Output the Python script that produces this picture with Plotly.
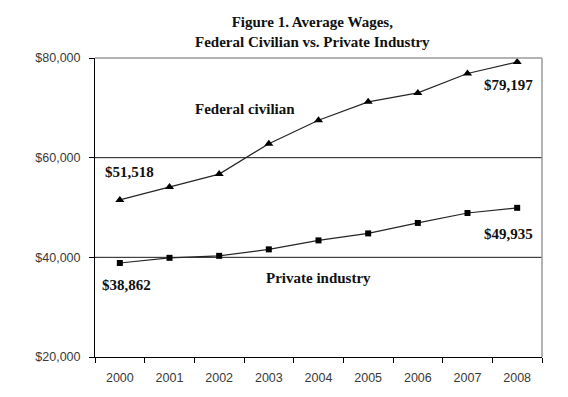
import plotly.graph_objects as go

years = ["2000", "2001", "2002", "2003", "2004", "2005", "2006", "2007", "2008"]
federal = [51518, 54100, 56700, 62800, 67500, 71200, 73000, 76900, 79197]
private = [38862, 39900, 40300, 41600, 43400, 44800, 46900, 48900, 49935]
y_ticks = [20000, 40000, 60000, 80000]
y_tick_text = ["$20,000", "$40,000", "$60,000", "$80,000"]
grid_values = [40000, 60000]

serif = "Liberation Serif, Times New Roman, serif"
sans = "Liberation Sans, Arial, sans-serif"

fig = go.Figure()
fig.add_trace(go.Scatter(
    x=years, y=federal, mode="lines+markers",
    line=dict(color="#262626", width=1.2),
    marker=dict(symbol="triangle-up", size=8, color="black"),
    showlegend=False, cliponaxis=False,
))
fig.add_trace(go.Scatter(
    x=years, y=private, mode="lines+markers",
    line=dict(color="#262626", width=1.2),
    marker=dict(symbol="square", size=6, color="black"),
    showlegend=False, cliponaxis=False,
))

shapes = []
for g in grid_values:
    shapes.append(dict(type="line", xref="paper", yref="y", x0=0, x1=1, y0=g, y1=g,
                       line=dict(color="#1a1a1a", width=1), layer="below"))
shapes.append(dict(type="line", xref="paper", yref="paper", x0=0, x1=1, y0=1, y1=1,
                   line=dict(color="#9a9a9a", width=1.5)))
shapes.append(dict(type="line", xref="paper", yref="paper", x0=1, x1=1, y0=0, y1=1,
                   line=dict(color="#9a9a9a", width=1.5)))

labels = [
    ("Federal civilian", 2.52, 69800),
    ("$51,518", 0.19, 57100),
    ("$79,197", 7.83, 74600),
    ("$49,935", 7.83, 44700),
    ("Private industry", 4.0, 35850),
    ("$38,862", 0.13, 34500),
]
annotations = []
for text, xi, yv in labels:
    annotations.append(dict(text="<b>" + text + "</b>", x=xi, y=yv, xref="x", yref="y",
                            showarrow=False, xanchor="center", yanchor="middle",
                            font=dict(family=serif, size=15, color="#111")))
annotations.append(dict(
    text="<b>Figure 1. Average Wages,</b><br><b>Federal Civilian vs. Private Industry</b>",
    xref="paper", yref="paper", x=0.487, y=1.087, showarrow=False,
    xanchor="center", yanchor="middle",
    font=dict(family=serif, size=15, color="#111")))

fig.update_layout(
    width=568, height=397,
    margin=dict(l=87, r=34, t=50, b=48),
    paper_bgcolor="white", plot_bgcolor="white",
    shapes=shapes, annotations=annotations,
    xaxis=dict(type="category", tickson="boundaries", ticks="outside", ticklen=5,
               tickcolor="black", showline=True, linecolor="black", linewidth=1,
               showgrid=False, range=[-0.5, 8.5], ticklabelstandoff=9,
               tickfont=dict(family=sans, size=12.5, color="#3a3a3a")),
    yaxis=dict(range=[20000, 80000], tickvals=y_ticks, ticktext=y_tick_text,
               ticks="outside", ticklen=5, tickcolor="black", showline=True,
               linecolor="black", linewidth=1, showgrid=False, zeroline=False,
               ticklabelstandoff=6,
               tickfont=dict(family=sans, size=12.5, color="#3a3a3a")),
)

fig.write_html("out.html")
